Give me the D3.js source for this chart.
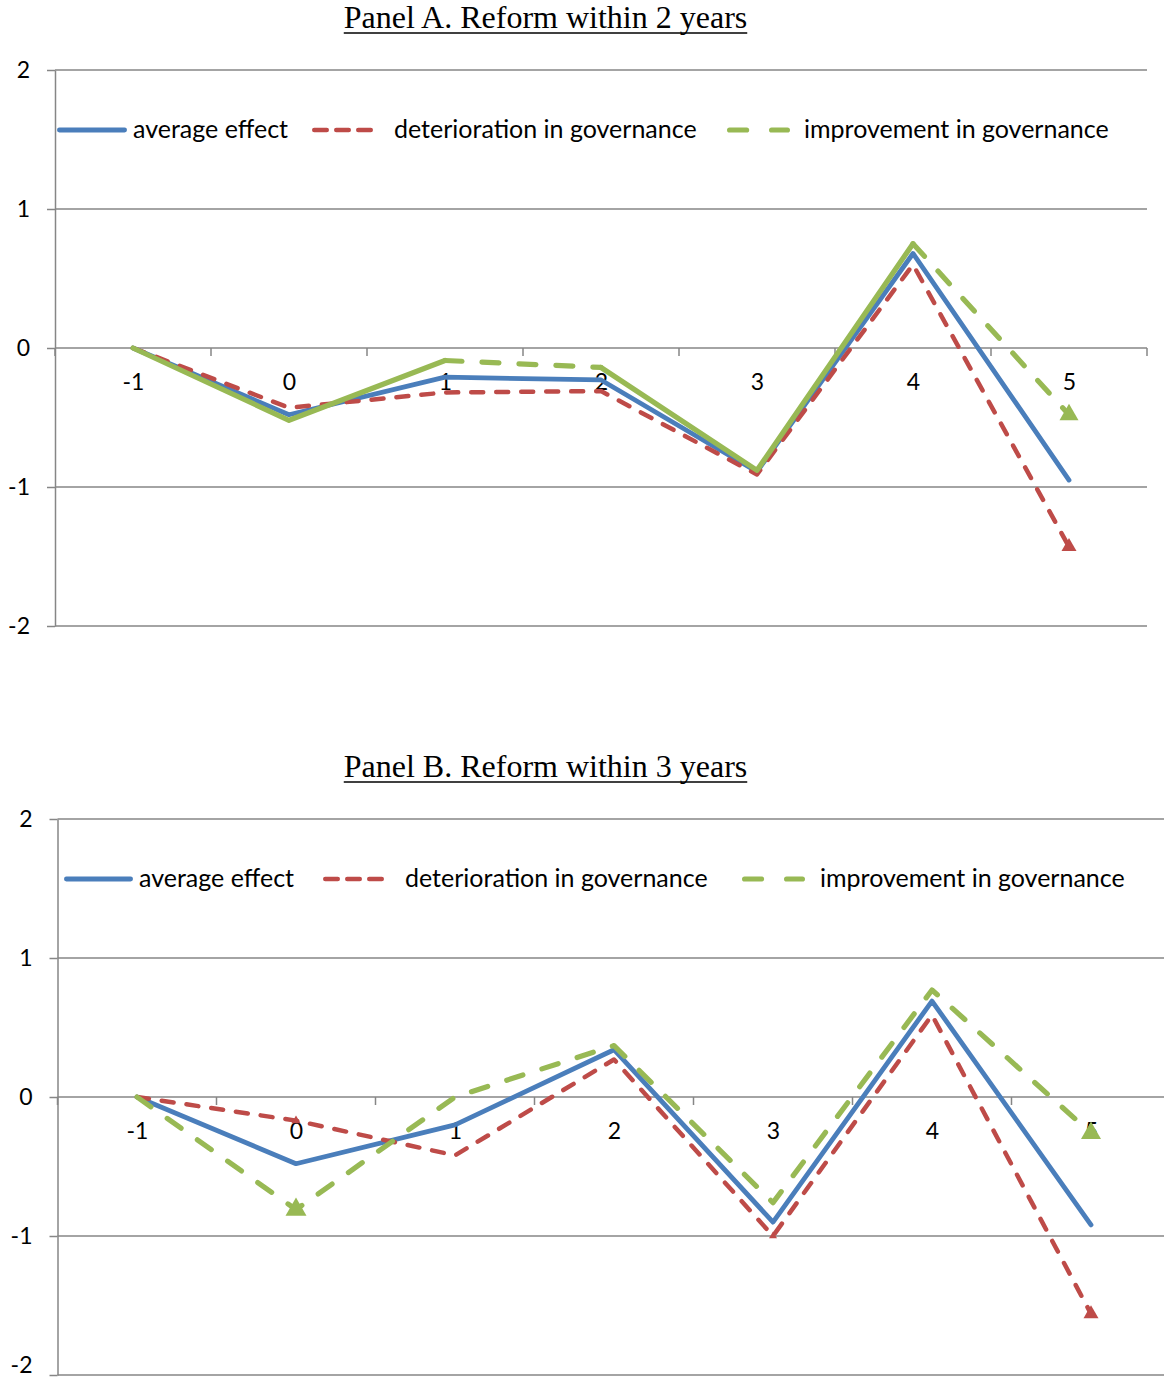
<!DOCTYPE html>
<html>
<head>
<meta charset="utf-8">
<script src="https://cdn.jsdelivr.net/npm/d3@7"></script>
<style>
  body { margin: 0; background: #fff; }
  svg { display: block; }
</style>
</head>
<body>
<svg id="chart" width="1164" height="1384"></svg>
<script>
// ---- data -------------------------------------------------------------
const periods = ["-1", "0", "1", "2", "3", "4", "5"];
const yTicks = [-2, -1, 0, 1, 2];
const seriesNames = ["average effect", "deterioration in governance", "improvement in governance"];
const panelTitles = ["Panel A. Reform within 2 years", "Panel B. Reform within 3 years"];

// Panel A: reform within 2 years
const averageA       = [0, -0.48, -0.21, -0.23, -0.89, 0.68, -0.95];
const deteriorationA = [0, -0.43, -0.32, -0.31, -0.91, 0.60, -1.43];
const improvementA   = [0, -0.52, -0.09, -0.14, -0.88, 0.75, -0.48];

// Panel B: reform within 3 years
const averageB       = [0, -0.48, -0.20, 0.34, -0.90, 0.69, -0.92];
const deteriorationB = [0, -0.17, -0.42, 0.27, -1.00, 0.59, -1.56];
const improvementB   = [0, -0.81, 0.00, 0.37, -0.76, 0.77, -0.26];

// ---- styling ----------------------------------------------------------
const colors = ["#4a7ebb", "#be4b48", "#98b954"];
const widths = [4.8, 4.5, 5.2];
const dashes = { solid: null, short: "12 13", long: "17 20" };
const legendDashes = [null, "12.5 9.5", "17 25"];
const gridColor = "#868686";
const labelFont = "Lato, 'Open Sans', sans-serif";

const panels = [
  {
    title: panelTitles[0], titleY: 28, titleX: 545.5,
    left: 55, right: 1147, top: 70, bottom: 626,
    legendY: 130,
    legend: [{ x0: 57, x1: 127, tx: 133 }, { x0: 312, x1: 373, tx: 394 }, { x0: 727, x1: 790, tx: 804 }],
    series: [averageA, deteriorationA, improvementA],
    segStyles: [
      ["solid", "solid", "solid", "solid", "solid", "solid"],
      ["short", "short", "short", "short", "short", "short"],
      ["solid", "solid", "long", "solid", "solid", "long"]
    ],
    // [series index, point index, triangle width]
    markers: [[1, 6, 15], [2, 6, 19]]
  },
  {
    title: panelTitles[1], titleY: 777, titleX: 545.5,
    left: 57.5, right: 1170.5, top: 819, bottom: 1375,
    legendY: 879,
    legend: [{ x0: 64, x1: 133, tx: 139 }, { x0: 323, x1: 386, tx: 405 }, { x0: 742, x1: 805, tx: 820 }],
    series: [averageB, deteriorationB, improvementB],
    segStyles: [
      ["solid", "solid", "solid", "solid", "solid", "solid"],
      ["short", "short", "short", "short", "short", "short"],
      ["long", "long", "long", "long", "long", "long"]
    ],
    markers: [[1, 1, 9], [1, 4, 8], [1, 6, 15], [2, 1, 21], [2, 6, 20]]
  }
];

const svg = d3.select("#chart");
const W = +svg.attr("width");
const H = +svg.attr("height");

panels.forEach(p => {
  const g = svg.append("g");

  const x = d3.scalePoint().domain(periods).range([p.left, p.right]).padding(0.5);
  const y = d3.scaleLinear().domain([-2, 2]).range([p.bottom, p.top]);
  const step = x.step();
  const gridRight = Math.min(p.right, W);

  // title, underlined
  const title = g.append("text")
    .attr("x", p.titleX).attr("y", p.titleY)
    .attr("text-anchor", "middle")
    .style("font-family", "'Liberation Serif', 'Times New Roman', serif")
    .style("font-size", "32px")
    .attr("fill", "#000")
    .text(p.title);
  const tw = title.node().getComputedTextLength();
  g.append("line")
    .attr("x1", p.titleX - tw / 2).attr("x2", p.titleX + tw / 2)
    .attr("y1", p.titleY + 5).attr("y2", p.titleY + 5)
    .attr("stroke", "#000").attr("stroke-width", 1.6);

  // horizontal gridlines
  g.append("g").selectAll("line").data(yTicks).join("line")
    .attr("x1", p.left).attr("x2", gridRight)
    .attr("y1", d => y(d)).attr("y2", d => y(d))
    .attr("stroke", gridColor).attr("stroke-width", 1.5);

  // value axis
  const yAxis = g.append("g")
    .attr("transform", `translate(${p.left},0)`)
    .call(d3.axisLeft(y).tickValues(yTicks).tickSizeInner(8).tickSizeOuter(0).tickPadding(17)
      .tickFormat(d => String(d)));
  yAxis.select(".domain").attr("stroke", gridColor).attr("stroke-width", 1.5);
  yAxis.selectAll(".tick line").attr("stroke", gridColor).attr("stroke-width", 1.5);
  yAxis.selectAll(".tick text")
    .style("font-family", labelFont).style("font-size", "23px").attr("fill", "#000")
    // keep the lowest label inside the page
    .attr("dy", d => (y(d) + 14 > H ? "-0.1em" : "0.32em"));

  // category axis on the zero line, ticks between categories
  const zeroY = y(0);
  const bounds = d3.range(periods.length + 1).map(i => p.left + i * step).filter(v => v <= W);
  g.append("g").selectAll("line").data(bounds).join("line")
    .attr("x1", d => d).attr("x2", d => d)
    .attr("y1", zeroY).attr("y2", zeroY + 8)
    .attr("stroke", gridColor).attr("stroke-width", 1.5);
  const xAxis = g.append("g")
    .attr("transform", `translate(0,${zeroY})`)
    .call(d3.axisBottom(x).tickSize(0).tickPadding(26));
  xAxis.select(".domain").remove();
  xAxis.selectAll(".tick text")
    .style("font-family", labelFont).style("font-size", "23px").attr("fill", "#000");

  // series lines, split into runs of equal line style
  const line = d3.line().x(d => x(d[0])).y(d => y(d[1]));
  p.series.forEach((vals, si) => {
    const pts = vals.map((v, i) => [periods[i], v]);
    const styles = p.segStyles[si];
    let start = 0;
    for (let i = 1; i <= styles.length; i++) {
      if (i === styles.length || styles[i] !== styles[start]) {
        const dash = dashes[styles[start]];
        g.append("path")
          .datum(pts.slice(start, i + 1))
          .attr("d", line)
          .attr("fill", "none")
          .attr("stroke", colors[si])
          .attr("stroke-width", widths[si])
          .attr("stroke-linejoin", "round")
          .attr("stroke-linecap", "round")
          .attr("stroke-dasharray", dash);
        start = i;
      }
    }
  });

  // triangle markers
  p.markers.forEach(([si, pi, w]) => {
    const area = w * w * Math.sqrt(3) / 4;
    g.append("path")
      .attr("d", d3.symbol(d3.symbolTriangle, area)())
      .attr("transform", `translate(${x(periods[pi])},${y(p.series[si][pi])})`)
      .attr("fill", colors[si]);
  });

  // legend
  p.legend.forEach((L, si) => {
    const cap = widths[si] / 2;
    g.append("line")
      .attr("x1", L.x0 + cap).attr("x2", L.x1 - cap)
      .attr("y1", p.legendY).attr("y2", p.legendY)
      .attr("stroke", colors[si])
      .attr("stroke-width", widths[si])
      .attr("stroke-linecap", "round")
      .attr("stroke-dasharray", legendDashes[si]);
    g.append("text")
      .attr("x", L.tx).attr("y", p.legendY + 8)
      .style("font-family", labelFont).style("font-size", "25px")
      .attr("fill", "#000")
      .text(seriesNames[si]);
  });
});
</script>
</body>
</html>
